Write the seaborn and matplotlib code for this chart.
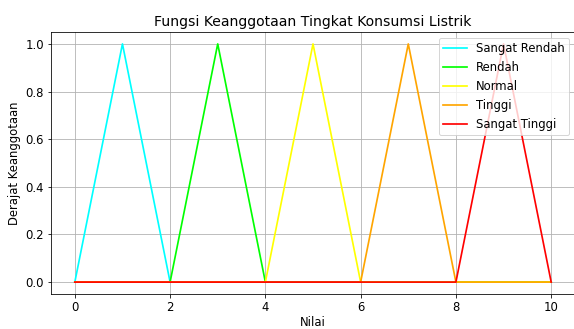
import matplotlib

matplotlib.use("Agg")
import matplotlib.pyplot as plt
import pandas
import seaborn as sns

# Universe of discourse and membership values
nilai = [0, 1, 2, 3, 4, 5, 6, 7, 8, 9, 10]
sangat_rendah = [0, 1, 0, 0, 0, 0, 0, 0, 0, 0, 0]
rendah = [0, 0, 0, 1, 0, 0, 0, 0, 0, 0, 0]
normal = [0, 0, 0, 0, 0, 1, 0, 0, 0, 0, 0]
tinggi = [0, 0, 0, 0, 0, 0, 0, 1, 0, 0, 0]
sangat_tinggi = [0, 0, 0, 0, 0, 0, 0, 0, 0, 1, 0]

labels = ["Sangat Rendah", "Rendah", "Normal", "Tinggi", "Sangat Tinggi"]
colors = ["cyan", "lime", "yellow", "orange", "red"]
series = [sangat_rendah, rendah, normal, tinggi, sangat_tinggi]


def plot() -> None:
    plt.rcParams["font.size"] = 11.6
    fig = plt.figure(figsize=(574 / 72, 329 / 72), dpi=72)
    ax = fig.add_axes([51 / 574, 35 / 329, 524 / 574, 262 / 329])

    for label, color, values in zip(labels, colors, series):
        df = pandas.DataFrame({"x": nilai, "y": values})
        sns.lineplot(
            data=df, x="x", y="y", color=color, label=label, linewidth=1.7, ax=ax
        )

    ax.set_title("Fungsi Keanggotaan Tingkat Konsumsi Listrik", fontsize=14)
    ax.set_xlabel("Nilai", labelpad=2)
    ax.set_ylabel("Derajat Keanggotaan")
    ax.set_xlim(-0.5, 10.5)
    ax.set_ylim(-0.05, 1.05)
    ax.grid(True)
    ax.legend(loc="upper right")

    fig.savefig("out.png", dpi=72)
    plt.close(fig)


if __name__ == "__main__":
    plot()
